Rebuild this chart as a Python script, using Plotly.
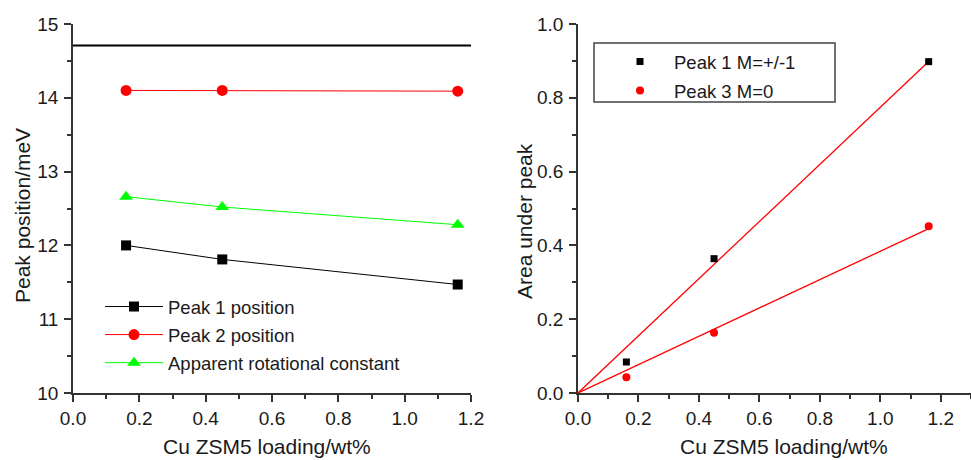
import numpy as np
import plotly.graph_objects as go

# Cu loading of the three ZSM5 samples (wt%)
loading = [0.16, 0.45, 1.16]

# Left panel: peak positions (meV)
peak1_pos = [12.00, 11.81, 11.47]
peak2_pos = [14.10, 14.10, 14.09]
rot_const = [12.66, 12.52, 12.28]
free_rotor_level = 14.71

# Right panel: integrated peak areas
peak1_area = [0.084, 0.364, 0.898]
peak3_area = [0.043, 0.163, 0.452]

W, H = 971, 460
ML, MR, MT, MB = 73, 0, 24, 67
PW, PH = W - ML - MR, H - MT - MB
FONT = "Liberation Sans, Arial, sans-serif"
AX = "#333333"
TXT = "#1a1a1a"


def px_x(v):
    return (v - ML) / PW


def px_y(v):
    return (H - MB - v) / PH


fig = go.Figure()

# left panel series
fig.add_trace(go.Scatter(
    x=loading, y=peak1_pos, mode="lines+markers", name="Peak 1 position",
    line=dict(color="black", width=1), marker=dict(symbol="square", size=10, color="black"),
    xaxis="x", yaxis="y", legend="legend", legendgroup="a"))
fig.add_trace(go.Scatter(
    x=loading, y=peak2_pos, mode="lines+markers", name="Peak 2 position",
    line=dict(color="#ff0000", width=1), marker=dict(symbol="circle", size=11, color="#ff0000"),
    xaxis="x", yaxis="y", legend="legend", legendgroup="b"))
fig.add_trace(go.Scatter(
    x=loading, y=rot_const, mode="lines+markers", name="Apparent rotational constant",
    line=dict(color="#00ff00", width=1), marker=dict(symbol="triangle-up", size=12, color="#00ff00"),
    xaxis="x", yaxis="y", legend="legend", legendgroup="c"))

# free rotor reference level across the left panel
fig.add_shape(type="line", xref="x domain", yref="y", x0=0, x1=1,
              y0=free_rotor_level, y1=free_rotor_level,
              line=dict(color="black", width=2))

# right panel: proportional fits through the origin
x_arr = np.array(loading)
fit_x = np.array([0.0, loading[-1]])
for area in (peak1_area, peak3_area):
    a = np.array(area)
    slope = float(np.dot(x_arr, a) / np.dot(x_arr, x_arr))
    fig.add_trace(go.Scatter(
        x=fit_x, y=slope * fit_x, mode="lines", showlegend=False,
        line=dict(color="#ff0000", width=1.3), xaxis="x2", yaxis="y2", hoverinfo="skip"))

fig.add_trace(go.Scatter(
    x=loading, y=peak1_area, mode="markers", name="Peak 1 M=+/-1",
    marker=dict(symbol="square", size=7, color="black"),
    xaxis="x2", yaxis="y2", legend="legend2", legendgroup="d"))
fig.add_trace(go.Scatter(
    x=loading, y=peak3_area, mode="markers", name="Peak 3 M=0",
    marker=dict(symbol="circle", size=8, color="#ff0000"),
    xaxis="x2", yaxis="y2", legend="legend2", legendgroup="e"))

tick_font = dict(family=FONT, size=19, color=TXT)
base = dict(showline=True, linecolor=AX, linewidth=1.5, ticks="outside",
            ticklen=7, tickwidth=1.5, tickcolor=AX, showgrid=False,
            zeroline=False, tickfont=tick_font, automargin=False)
minor = dict(ticks="outside", ticklen=4, tickwidth=1.5, tickcolor=AX)

fig.update_layout(
    width=W, height=H,
    margin=dict(l=ML, r=MR, t=MT, b=MB, autoexpand=False),
    paper_bgcolor="white", plot_bgcolor="white",
    font=dict(family=FONT, color=TXT),
    xaxis=dict(domain=[0, px_x(471)], range=[0, 1.2], dtick=0.2, tickformat=".1f",
               minor=dict(dtick=0.1, **minor), anchor="y", ticklabelstandoff=0, **base),
    yaxis=dict(domain=[0, 1], range=[10, 15], dtick=1,
               minor=dict(dtick=0.5, **minor), anchor="x", ticklabelstandoff=2, **base),
    xaxis2=dict(domain=[px_x(578), 1.0], range=[0, 1.3],
                tickvals=[0, 0.2, 0.4, 0.6, 0.8, 1.0, 1.2], tickformat=".1f",
                minor=dict(dtick=0.1, tick0=0, **minor), anchor="y2",
                ticklabelstandoff=0, **base),
    yaxis2=dict(domain=[0, 1], range=[0, 1.0], dtick=0.2, tickformat=".1f",
                minor=dict(dtick=0.1, **minor), anchor="x2", ticklabelstandoff=2, **base),
    legend=dict(x=px_x(100), y=px_y(288), xanchor="left", yanchor="top",
                bgcolor="rgba(0,0,0,0)", borderwidth=0, itemwidth=58,
                tracegroupgap=1, traceorder="grouped",
                font=dict(family=FONT, size=18.5, color=TXT)),
    legend2=dict(x=px_x(606), y=px_y(43), xanchor="left", yanchor="top",
                 bgcolor="rgba(0,0,0,0)", borderwidth=0, itemwidth=58,
                 tracegroupgap=2, traceorder="grouped",
                 font=dict(family=FONT, size=18.5, color=TXT)),
    showlegend=True,
)

# frame around the right-hand legend
fig.add_shape(type="rect", xref="paper", yref="paper",
              x0=px_x(594), x1=px_x(835), y0=px_y(102), y1=px_y(43),
              line=dict(color="#444444", width=1.5), fillcolor="rgba(0,0,0,0)", layer="above")

title_font = dict(family=FONT, size=21, color=TXT)
for cx in (267, 784):
    fig.add_annotation(text="Cu ZSM5 loading/wt%", x=px_x(cx), y=px_y(460),
                       xref="paper", yref="paper", showarrow=False, font=title_font,
                       xanchor="center", yanchor="bottom")
fig.add_annotation(text="Peak position/meV", x=px_x(23), y=px_y(216),
                   xref="paper", yref="paper", showarrow=False, font=title_font,
                   textangle=-90, xanchor="center", yanchor="middle")
fig.add_annotation(text="Area under peak", x=px_x(524), y=px_y(221),
                   xref="paper", yref="paper", showarrow=False, font=title_font,
                   textangle=-90, xanchor="center", yanchor="middle")

fig.write_html("out.html")
